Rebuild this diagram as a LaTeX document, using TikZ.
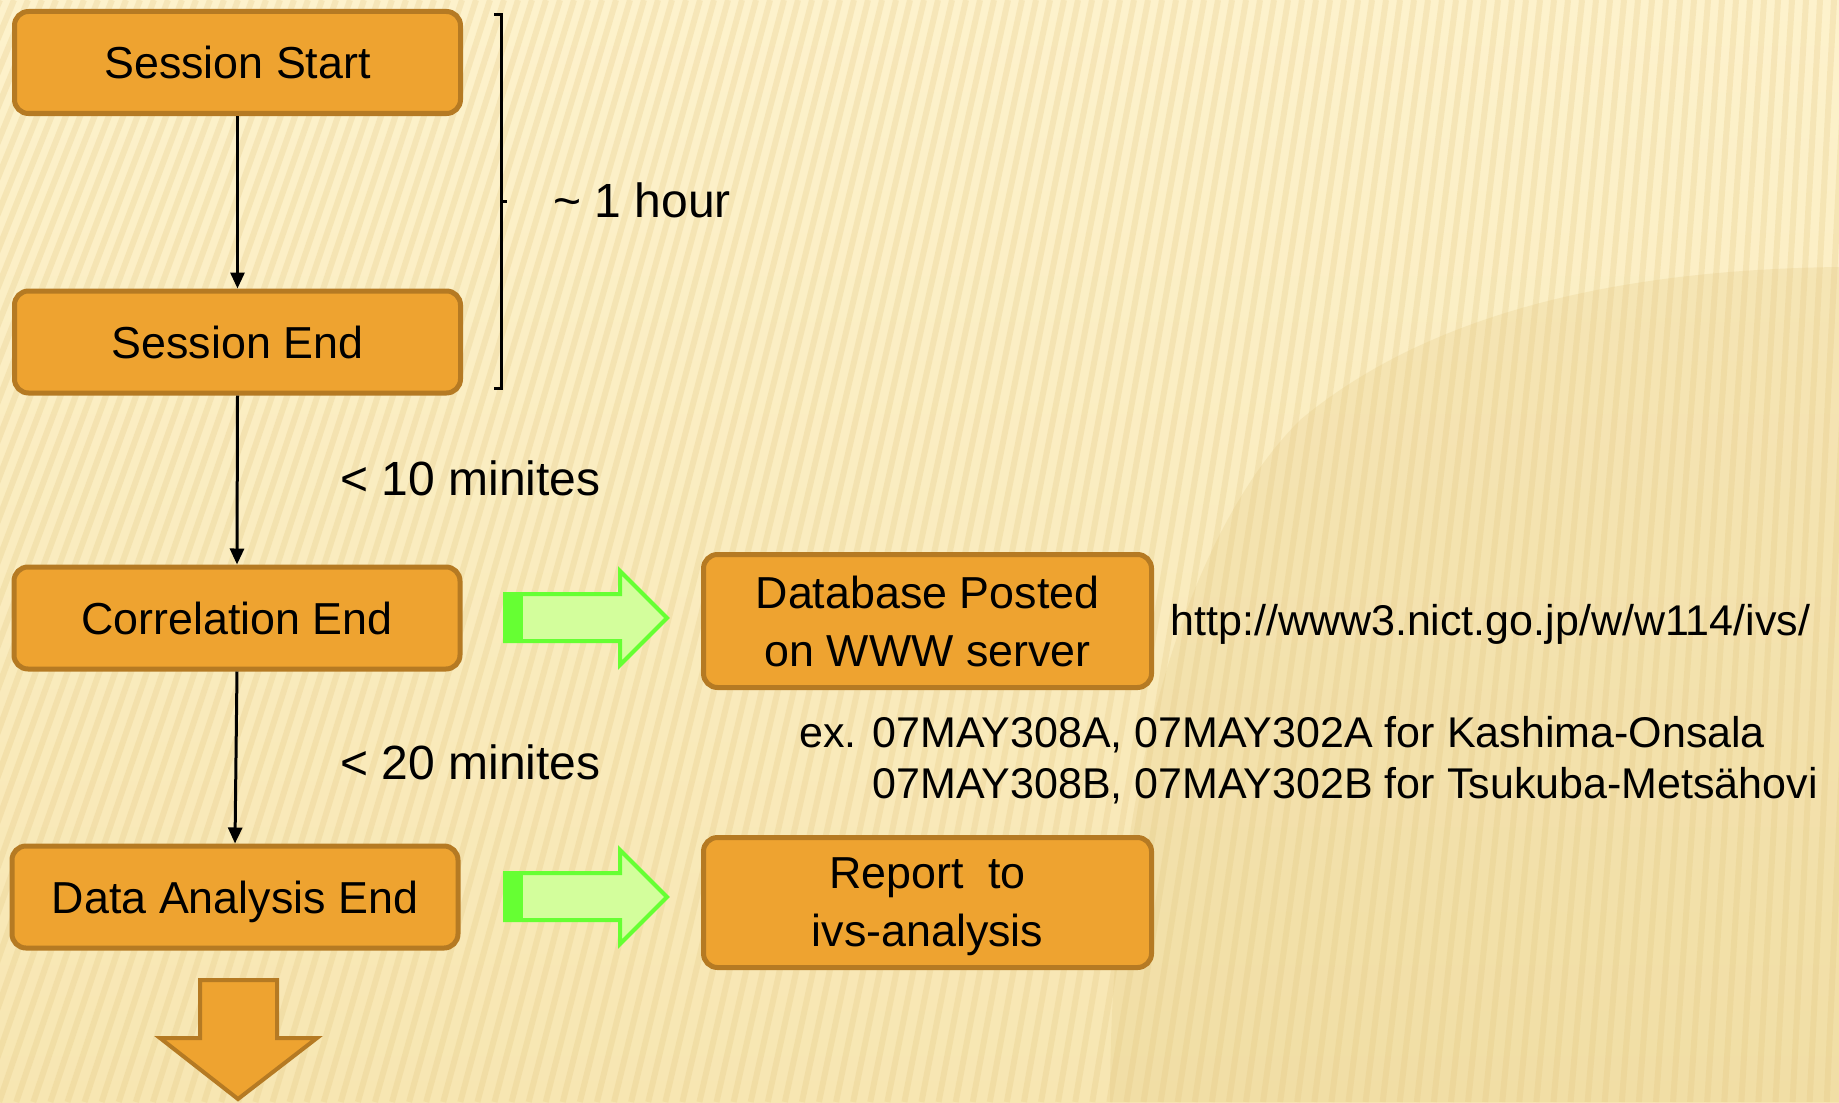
\documentclass[tikz,border=0pt]{standalone}
\usepackage{fontspec}
\setmainfont{Liberation Sans}
\usetikzlibrary{arrows.meta}
\definecolor{bgtop}{HTML}{FDF2CC}
\definecolor{bgbot}{HTML}{F7E6B2}
\definecolor{stripecol}{HTML}{E2C57E}
\definecolor{tancol}{HTML}{E0C47A}
\definecolor{boxfill}{HTML}{EEA330}
\definecolor{boxline}{HTML}{B57A23}
\definecolor{gfill}{HTML}{D3FE9C}
\definecolor{gline}{HTML}{66FF33}
\tikzset{
  greenarrow/.pic={
    \fill[gfill, draw=gline, line width=2pt] (0,-24) -- (115,-24) -- (115,-47) -- (162,0) -- (115,47) -- (115,23) -- (0,23) -- cycle;
    \fill[gline] (0,-24) rectangle (18,23);
  }
}
\begin{document}
\begin{tikzpicture}[x=0.5pt, y=-0.5pt,
  boxbase/.style={draw=boxline, fill=boxfill, line width=2.5pt, rounded corners=7pt,
    align=center, inner sep=0pt, font=\fontsize{22.4pt}{29pt}\selectfont},
  flowbox/.style={boxbase, minimum width=223pt, minimum height=51pt,
    text height=21.6pt, text depth=5.6pt},
  twobox/.style={boxbase, minimum width=224pt},
  conn/.style={-{Triangle[length=8pt,width=7pt]}, line width=1.5pt},
  lbl/.style={anchor=west, inner sep=0pt, font=\fontsize{24pt}{29pt}\selectfont,
    text height=23pt, text depth=6pt},
  info/.style={inner sep=0pt, font=\fontsize{21.5pt}{25.5pt}\selectfont},
  ]
\useasboundingbox (0,0) rectangle (1839,1102);
% background
\shade[top color=bgtop, bottom color=bgbot] (0,0) rectangle (1839,1102);
\fill[tancol, opacity=0.22] (1839,267) .. controls (1600,270) and (1420,320) .. (1300,420)
   .. controls (1180,540) and (1110,800) .. (1110,1102) -- (1839,1102) -- cycle;
\begin{scope}
\clip (0,0) rectangle (1839,1102);
\foreach \i in {0,...,138} {
  \pgfmathsetmacro\xa{\i*14}
  \pgfmathsetmacro\xb{\xa+(\xa-2100)*0.22}
  \draw[stripecol, line width=3pt, opacity=0.25] (\xa,0) -- (\xb,1102);
}
\end{scope}

% flow boxes
\node[flowbox] (ss) at (237.5,62.5) {Session Start};
\node[flowbox] (se) at (237.5,342) {Session End};
\node[flowbox] (ce) at (237,618) {Correlation End};
\node[flowbox] (dae) at (235,897) {Data Analysis End};
\node[twobox, minimum height=66.5pt] (db) at (927.5,621) {Database Posted\\on WWW server};
\node[twobox, minimum height=65pt] (rep) at (927.5,902.5) {Report\ \ to\\\smash{ivs-analysis}};

% connectors
\draw[conn] (ss.south) -- (se.north);
\draw[conn] (se.south) -- (ce.north);
\draw[conn] (ce.south) -- (dae.north);

% bracket
\coordinate (bt) at (501,15);
\coordinate (bb) at (501,388);
\coordinate (bm) at (501,201);
\draw[line width=1.5pt] ([xshift=-3.5pt]bt) -- (bt) -- (bb) -- ([xshift=-3.5pt]bb);
\draw[line width=1.5pt] (bm) -- ([xshift=3pt]bm);

% labels
\node[lbl] (hour) at (553,200) {\char"007E\ 1 hour};
\node[lbl] (ten) at (340,478) {< 10 minites};
\node[lbl] (twenty) at (340,762) {< 20 minites};
\node[info, anchor=west, text height=20.5pt, text depth=5pt] (url) at (1170,620) {http://www3.nict.go.jp/w/w114/ivs/};
\node[info, anchor=north west, align=left] (ex) at (799,716)
  {ex. 07MAY308A, 07MAY302A for Kashima-Onsala\\\hphantom{ex. }07MAY308B, 07MAY302B for Tsukuba-Metsähovi};

% green block arrows
\pic at (505,618) {greenarrow};
\pic at (505,897) {greenarrow};

% bottom orange arrow
\fill[boxfill, draw=boxline, line width=2pt] (200,980) -- (277,980) -- (277,1038) -- (317,1038) -- (238,1099) -- (160,1038) -- (200,1038) -- cycle;
\end{tikzpicture}
\end{document}
